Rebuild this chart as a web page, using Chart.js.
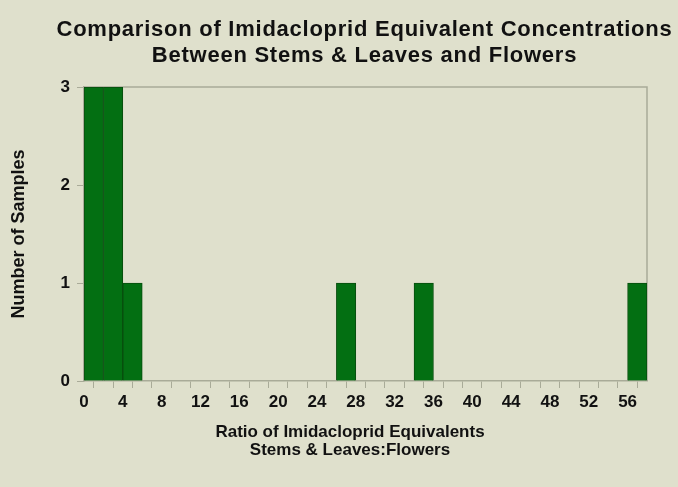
<!DOCTYPE html>
<html>
<head>
<meta charset="utf-8">
<script src="https://cdn.jsdelivr.net/npm/chart.js@4/dist/chart.umd.min.js"></script>
<style>
  html, body { margin: 0; padding: 0; background: #dfe0cc; }
  #wrap { width: 678px; height: 487px; position: relative; }
</style>
</head>
<body>
<div id="wrap"><canvas id="chart"></canvas></div>
<script>
// histogram bins (width 2), only bins with samples
const binCenters = [1, 3, 5, 27, 35, 57];
const sampleCounts = [3, 3, 1, 1, 1, 1];

const titleLines = ['Comparison of Imidacloprid Equivalent Concentrations', 'Between Stems & Leaves and Flowers'];
const xTitleLines = ['Ratio of Imidacloprid Equivalents', 'Stems & Leaves:Flowers'];
const yTitle = 'Number of Samples';

const FONT = '"Liberation Sans", Arial, Helvetica, sans-serif';
const axisGrey = '#a9ab98';

// titles + frame lines (top and right)
const extras = {
    id: 'extras',
    beforeDatasetsDraw(chart) {
        const { ctx, chartArea: a } = chart;
        ctx.save();
        ctx.strokeStyle = axisGrey;
        ctx.lineWidth = 1.5;
        ctx.beginPath();
        ctx.moveTo(a.left, a.top);
        ctx.lineTo(a.right, a.top);
        ctx.lineTo(a.right, a.bottom);
        ctx.stroke();
        ctx.restore();
    },
    afterDraw(chart) {
        const { ctx, chartArea: a } = chart;
        ctx.save();
        ctx.fillStyle = '#111';
        ctx.textAlign = 'center';
        ctx.textBaseline = 'middle';
        ctx.font = 'bold 22px ' + FONT;
        ctx.letterSpacing = '0.75px';
        const cx = (a.left + a.right) / 2 - 1;
        ctx.fillText(titleLines[0], cx, 30);
        ctx.fillText(titleLines[1], cx, 55.5);
        ctx.letterSpacing = '0px';
        ctx.font = 'bold 17px ' + FONT;
        ctx.fillText(xTitleLines[0], 350, 432);
        ctx.fillText(xTitleLines[1], 350, 450.5);
        ctx.restore();
    }
};

const data = {
    datasets: [{
        data: binCenters.map((x, i) => ({ x: x, y: sampleCounts[i] })),
        backgroundColor: '#036f12',
        borderColor: '#084d0e',
        borderWidth: 1,
        barPercentage: 1,
        categoryPercentage: 1
    }]
};

const myChart = new Chart(document.getElementById('chart'), {
    type: 'bar',
    data: data,
    options: {
        responsive: true,
        maintainAspectRatio: false,
        animation: false,
        layout: { padding: { top: 87, right: 31, bottom: 0, left: 0 } },
        plugins: {
            legend: { display: false },
            tooltip: { enabled: false },
            title: { display: false }
        },
        scales: {
            x: {
                type: 'linear',
                offset: false,
                min: 0,
                max: 58,
                grid: { drawOnChartArea: false, drawTicks: true, tickLength: 7, color: axisGrey },
                border: { color: axisGrey, width: 1.5 },
                ticks: {
                    stepSize: 2,
                    autoSkip: false,
                    maxRotation: 0,
                    padding: 4,
                    color: '#111',
                    font: { family: FONT, size: 17, weight: 'bold' },
                    callback: v => (v % 4 === 0 && v < 58) ? v : ''
                },
                afterFit: s => { s.height = 106; }
            },
            y: {
                min: 0,
                max: 3,
                grid: { drawOnChartArea: false, drawTicks: true, tickLength: 7, color: axisGrey },
                border: { color: axisGrey, width: 1.5 },
                ticks: {
                    stepSize: 1,
                    padding: 7,
                    color: '#111',
                    font: { family: FONT, size: 17, weight: 'bold' }
                },
                title: {
                    display: true,
                    text: yTitle,
                    color: '#111',
                    padding: { top: 8, bottom: 0 },
                    font: { family: FONT, size: 18, weight: 'bold' }
                },
                afterFit: s => { s.width = 84; }
            }
        }
    },
    plugins: [extras]
});
</script>
</body>
</html>
